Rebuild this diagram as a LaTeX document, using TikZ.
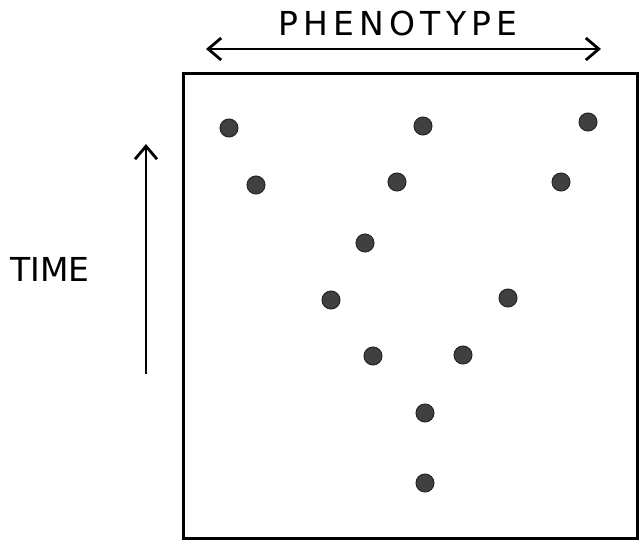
\documentclass[tikz,border=0pt]{standalone}
\usepackage{fontspec}
\setmainfont{DejaVu Sans}
\usepackage{tikz}
\usetikzlibrary{arrows.meta,positioning}
\definecolor{DotGray}{HTML}{404040}
\tikzset{
  dot/.style={circle,fill=DotGray,draw=black!85,line width=1pt,inner sep=0pt,minimum size=18pt},
  barb/.style={{Straight Barb[length=13pt,width=22pt]}-{Straight Barb[length=13pt,width=22pt]},line width=2.8pt},
}

\begin{document}
\begin{tikzpicture}[x=1pt,y=-1pt]
        \useasboundingbox (0,0) rectangle (639,541);
        % frame
        \draw[line width=3pt] (183,73) rectangle (637,538);
        % labels
        \node[font=\fontsize{33}{35}\selectfont\addfontfeatures{LetterSpace=16}] (pheno) at (398,23) {PHENOTYPE};
        \node[font=\fontsize{33}{35}\selectfont] (time) at (50,269) {TIME};
        % axes
        \coordinate (pl) at (206,49);
        \coordinate (pr) at (601,49);
        \draw[barb] (pl) -- (pr);
        \coordinate (tb) at (146,374);
        \coordinate (tt) at (146,144);
        \draw[-{Straight Barb[length=13pt,width=22pt]},line width=2.8pt] (tb) -- (tt);
        % dots
        \foreach \n/\x/\y in {a/229/128, b/423/126, c/588/122, d/256/185, e/397/182, f/561/182,
                              g/365/243, h/331/300, i/508/298, j/373/356, k/463/355, l/425/413, m/425/483}
          \node[dot] (\n) at (\x,\y) {};
      \end{tikzpicture}
\end{document}
